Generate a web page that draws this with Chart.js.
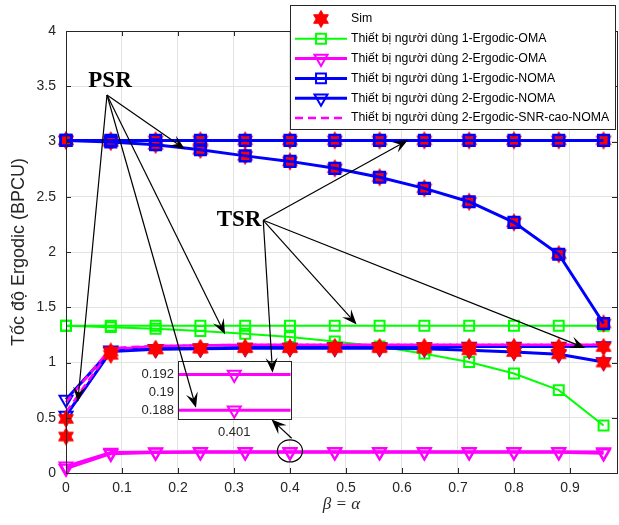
<!DOCTYPE html>
<html>
<head>
<meta charset="utf-8">
<script src="https://cdn.jsdelivr.net/npm/chart.js@4.4.1/dist/chart.umd.min.js"></script>
<style>
  html, body { margin: 0; padding: 0; background: #fff; }
  #wrap { position: relative; width: 619px; height: 525px; }
  #wrap canvas { position: absolute; left: 0; top: 0; }
</style>
</head>
<body>
<div id="wrap">
  <canvas id="main" width="619" height="525"></canvas>
  <canvas id="zoom" width="619" height="525"></canvas>
</div>
<script>
// beta = alpha values on the x axis
const betaAlpha = [0, 0.08, 0.16, 0.24, 0.32, 0.40, 0.48, 0.56, 0.64, 0.72, 0.80, 0.88, 0.96];

// analysis curves
const u1OmaPSR = [1.333, 1.32, 1.305, 1.285, 1.26, 1.23, 1.19, 1.145, 1.08, 1.005, 0.90, 0.75, 0.43];
const u1OmaTSR = [1.333, 1.333, 1.333, 1.333, 1.333, 1.333, 1.333, 1.333, 1.333, 1.333, 1.333, 1.333, 1.333];
const u2OmaPSR = [0.04, 0.175, 0.186, 0.187, 0.188, 0.188, 0.188, 0.188, 0.188, 0.188, 0.188, 0.187, 0.178];
const u2OmaTSR = [0.06, 0.185, 0.191, 0.192, 0.192, 0.192, 0.192, 0.192, 0.192, 0.192, 0.192, 0.192, 0.19];
const u1NomaPSR = [3.01, 2.995, 2.97, 2.925, 2.87, 2.82, 2.757, 2.676, 2.576, 2.455, 2.268, 1.98, 1.353];
const u1NomaTSR = [3.01, 3.01, 3.01, 3.01, 3.01, 3.01, 3.01, 3.01, 3.01, 3.01, 3.01, 3.01, 3.01];
const u2NomaPSR = [0.52, 1.10, 1.12, 1.125, 1.13, 1.13, 1.13, 1.13, 1.125, 1.11, 1.095, 1.075, 1.005];
const u2NomaTSR = [0.665, 1.11, 1.125, 1.13, 1.135, 1.135, 1.14, 1.14, 1.14, 1.145, 1.145, 1.145, 1.15];
const u2HighSnrPSR = [0.55, 1.12, 1.15, 1.155, 1.16, 1.16, 1.16, 1.16, 1.16, 1.16, 1.16, 1.16, 1.16];
const u2HighSnrTSR = [0.64, 1.13, 1.15, 1.155, 1.16, 1.16, 1.16, 1.16, 1.16, 1.16, 1.16, 1.16, 1.16];

// simulation points
const simU1PSR = [3.01, 2.995, 2.97, 2.925, 2.87, 2.82, 2.757, 2.676, 2.576, 2.455, 2.268, 1.98, 1.353];
const simU1TSR = [3.01, 3.01, 3.01, 3.01, 3.01, 3.01, 3.01, 3.01, 3.01, 3.01, 3.01, 3.01, 3.01];
const simU2PSR = [0.49, 1.10, 1.12, 1.125, 1.13, 1.13, 1.13, 1.13, 1.125, 1.11, 1.095, 1.075, 1.0];
const simU2TSR = [0.33, 1.07, 1.12, 1.13, 1.135, 1.135, 1.14, 1.14, 1.14, 1.14, 1.14, 1.14, 1.14];

// ticks
const xTicks = [0, 0.1, 0.2, 0.3, 0.4, 0.5, 0.6, 0.7, 0.8, 0.9];
const yTicks = [0, 0.5, 1, 1.5, 2, 2.5, 3, 3.5, 4];
const insetYTicks = [0.188, 0.19, 0.192];
const insetXLabel = '0.401';

const legendLabels = [
  'Sim',
  'Thiết bị người dùng 1-Ergodic-OMA',
  'Thiết bị người dùng 2-Ergodic-OMA',
  'Thiết bị người dùng 1-Ergodic-NOMA',
  'Thiết bị người dùng 2-Ergodic-NOMA',
  'Thiết bị người dùng 2-Ergodic-SNR-cao-NOMA'
];

// annotation anchors (data coordinates)
const psrText = {x: 0.0786, y: 3.548};
const psrFrom = {x: 0.0732, y: 3.421};
const psrTips = [
  {x: 0.2125, y: 2.93},
  {x: 0.284, y: 1.256},
  {x: 0.021, y: 0.643},
  {inset: true, x: 0.39966, y: 0.1883}
];
const tsrText = {x: 0.309, y: 2.287};
const tsrFrom = {x: 0.3523, y: 2.287};
const tsrTips = [
  {x: 0.6107, y: 3.013},
  {x: 0.519, y: 1.345},
  {x: 0.927, y: 1.132},
  {inset: true, x: 0.40034, y: 0.1922}
];
const zoomCircle = {x: 0.40, y: 0.20};
const zoomArrow = {from: {x: 0.403, y: 0.314}, to: {x: 0.367, y: 0.484}};
const insetBox = {xMin: 0.2, xMax: 0.401, yMin: 0.486, yMax: 1.012};

const BLUE = '#0000ff', GREEN = '#00ff00', MAGENTA = '#ff00ff', RED = '#ff0000';
const TXT = '#262626';

function pts(arr) { return betaAlpha.map((x, i) => ({x: x, y: arr[i]})); }

function makeHexagram(R) {
  const c = document.createElement('canvas');
  const s = Math.ceil(2 * R + 3);
  c.width = s; c.height = s;
  const g = c.getContext('2d');
  const r = R / Math.sqrt(3);
  g.beginPath();
  for (let k = 0; k < 12; k++) {
    const a = -Math.PI / 2 + k * Math.PI / 6;
    const rr = k % 2 ? r : R;
    const px = s / 2 + rr * Math.cos(a), py = s / 2 + rr * Math.sin(a);
    if (k === 0) g.moveTo(px, py); else g.lineTo(px, py);
  }
  g.closePath();
  g.fillStyle = RED; g.fill();
  g.strokeStyle = RED; g.lineWidth = 1; g.stroke();
  return c;
}
const star = makeHexagram(8.5);

function lineSet(arr, color, width, shape, extra) {
  return Object.assign({
    data: pts(arr),
    borderColor: color,
    borderWidth: width,
    pointStyle: shape === 'tri' ? 'triangle' : 'rect',
    pointRotation: shape === 'tri' ? 180 : 0,
    pointRadius: shape === 'tri' ? 7.5 : 7,
    pointBorderColor: color,
    pointBackgroundColor: 'rgba(0,0,0,0)',
    pointBorderWidth: 2,
    tension: 0,
    clip: false
  }, extra || {});
}
function simSet(arr) {
  return { data: pts(arr), showLine: false, pointStyle: star, pointRadius: 8, clip: false };
}
function dashSet(arr) {
  return { data: pts(arr), borderColor: MAGENTA, borderWidth: 2.5, borderDash: [8, 5], pointRadius: 0, tension: 0, clip: false };
}

function drawArrow(ctx, x0, y0, x1, y1) {
  const a = Math.atan2(y1 - y0, x1 - x0), c = Math.cos(a), s = Math.sin(a);
  const L = 15, W = 6;
  ctx.beginPath();
  ctx.moveTo(x0, y0);
  ctx.lineTo(x1 - c * L * 0.6, y1 - s * L * 0.6);
  ctx.stroke();
  ctx.beginPath();
  ctx.moveTo(x1, y1);
  ctx.lineTo(x1 - L * c - W * s, y1 - L * s + W * c);
  ctx.lineTo(x1 - 0.6 * L * c, y1 - 0.6 * L * s);
  ctx.lineTo(x1 - L * c + W * s, y1 - L * s - W * c);
  ctx.closePath();
  ctx.fill();
}

function drawMarker(ctx, shape, x, y, color) {
  ctx.strokeStyle = color; ctx.lineWidth = 2;
  ctx.beginPath();
  if (shape === 'rect') {
    const h = 7 * Math.SQRT1_2;
    ctx.rect(x - h, y - h, 2 * h, 2 * h);
  } else {
    const r = 7.5;
    ctx.moveTo(x, y + r);
    ctx.lineTo(x - r * Math.sin(Math.PI / 3), y - r / 2);
    ctx.lineTo(x + r * Math.sin(Math.PI / 3), y - r / 2);
    ctx.closePath();
  }
  ctx.stroke();
}

const frame = {
  id: 'frame',
  afterDatasetsDraw(chart) {
    const {ctx, chartArea: ca, scales} = chart;
    ctx.save();
    ctx.strokeStyle = TXT; ctx.lineWidth = 1;
    ctx.beginPath();
    xTicks.forEach(v => {
      const px = Math.round(scales.x.getPixelForValue(v)) + 0.5;
      ctx.moveTo(px, ca.bottom); ctx.lineTo(px, ca.bottom - 5);
      ctx.moveTo(px, ca.top); ctx.lineTo(px, ca.top + 5);
    });
    yTicks.forEach(v => {
      const py = Math.round(scales.y.getPixelForValue(v)) + 0.5;
      ctx.moveTo(ca.left, py); ctx.lineTo(ca.left + 5, py);
      ctx.moveTo(ca.right, py); ctx.lineTo(ca.right - 5, py);
    });
    ctx.stroke();
    ctx.strokeRect(Math.round(ca.left) + 0.5, Math.round(ca.top) + 0.5,
      Math.round(ca.right - ca.left), Math.round(ca.bottom - ca.top));
    ctx.restore();
  },
  afterDraw(chart) {
    const {ctx, chartArea: ca} = chart;
    const bw = 325, bh = 124, bx = Math.round(ca.right) - 2 - bw, by = 5;
    ctx.save();
    ctx.fillStyle = '#fff';
    ctx.fillRect(bx, by, bw, bh);
    ctx.strokeStyle = TXT; ctx.lineWidth = 1;
    ctx.strokeRect(bx + 0.5, by + 0.5, bw, bh);
    const styles = [
      {star: true},
      {color: GREEN, w: 2, shape: 'rect'},
      {color: MAGENTA, w: 3, shape: 'tri'},
      {color: BLUE, w: 3, shape: 'rect'},
      {color: BLUE, w: 3, shape: 'tri'},
      {color: MAGENTA, w: 2.5, dash: [8, 5]}
    ];
    const x0 = bx + 5, x1 = bx + 57, xm = (x0 + x1) / 2;
    ctx.font = '12.3px "Liberation Sans", Arial, sans-serif';
    ctx.textBaseline = 'middle';
    styles.forEach((st, i) => {
      const y = by + 14 + i * 19.8;
      if (st.star) {
        ctx.drawImage(star, xm - star.width / 2, y - star.height / 2);
      } else {
        ctx.strokeStyle = st.color; ctx.lineWidth = st.w;
        ctx.setLineDash(st.dash || []);
        ctx.beginPath(); ctx.moveTo(x0, y); ctx.lineTo(x1, y); ctx.stroke();
        ctx.setLineDash([]);
        if (st.shape) drawMarker(ctx, st.shape, xm, y, st.color);
      }
      ctx.fillStyle = '#000';
      ctx.fillText(legendLabels[i], bx + 61, y);
    });
    ctx.restore();
  }
};

const tickCb = v => String(+Number(v).toFixed(4));

const main = new Chart(document.getElementById('main'), {
  type: 'line',
  data: {
    datasets: [
      lineSet(u1NomaPSR, BLUE, 3, 'rect', {pointBorderWidth: 2.5, pointRadius: 7.5}),
      lineSet(u1NomaTSR, BLUE, 3, 'rect', {pointBorderWidth: 2.5, pointRadius: 7.5}),
      simSet(simU1PSR),
      simSet(simU1TSR),
      simSet(simU2PSR),
      simSet(simU2TSR),
      dashSet(u2HighSnrPSR),
      dashSet(u2HighSnrTSR),
      lineSet(u2NomaPSR, BLUE, 3, 'tri'),
      lineSet(u2NomaTSR, BLUE, 3, 'tri'),
      lineSet(u1OmaPSR, GREEN, 2, 'rect'),
      lineSet(u1OmaTSR, GREEN, 2, 'rect'),
      lineSet(u2OmaPSR, MAGENTA, 3, 'tri'),
      lineSet(u2OmaTSR, MAGENTA, 3, 'tri')
    ]
  },
  options: {
    responsive: false,
    animation: false,
    devicePixelRatio: 1,
    events: [],
    layout: {autoPadding: false, padding: {left: 0, top: 31, right: 2, bottom: 0}},
    plugins: {legend: {display: false}, tooltip: {enabled: false}},
    scales: {
      x: {
        type: 'linear', min: 0, max: 0.984,
        afterBuildTicks: s => { s.ticks = xTicks.map(v => ({value: v})); },
        afterFit: s => { s.height = 52; s.paddingLeft = 0; s.paddingRight = 0; },
        ticks: {callback: tickCb, color: TXT, font: {family: '"Liberation Sans", Arial', size: 14}, padding: 7, maxRotation: 0},
        grid: {color: '#e3e3e3', drawTicks: false},
        border: {display: false},
        title: {display: true, text: 'β = α', color: TXT,
          font: {family: '"Liberation Serif", "Times New Roman", serif', size: 17, style: 'italic'},
          padding: {top: 0, bottom: 10}}
      },
      y: {
        type: 'linear', min: 0, max: 4,
        afterBuildTicks: s => { s.ticks = yTicks.map(v => ({value: v})); },
        afterFit: s => { s.width = 66; s.paddingTop = 0; s.paddingBottom = 0; },
        ticks: {callback: tickCb, color: TXT, font: {family: '"Liberation Sans", Arial', size: 14}, padding: 10},
        grid: {color: '#e3e3e3', drawTicks: false},
        border: {display: false},
        title: {display: true, text: 'Tốc độ Ergodic (BPCU)', color: TXT,
          font: {family: '"Liberation Sans", Arial', size: 18},
          padding: {top: 8, bottom: 0}}
      }
    }
  },
  plugins: [frame]
});

// inset (zoom) axes placed over the main plot
const mx = main.scales.x, my = main.scales.y;
const iL = mx.getPixelForValue(insetBox.xMin), iR = mx.getPixelForValue(insetBox.xMax);
const iT = my.getPixelForValue(insetBox.yMax), iB = my.getPixelForValue(insetBox.yMin);

const insetDecor = {
  id: 'insetDecor',
  beforeDatasetsDraw(chart) {
    const {ctx, chartArea: ca} = chart;
    ctx.save();
    ctx.fillStyle = '#fff';
    ctx.fillRect(ca.left, ca.top, ca.right - ca.left, ca.bottom - ca.top);
    ctx.restore();
  },
  afterDatasetsDraw(chart) {
    const {ctx, chartArea: ca} = chart;
    ctx.save();
    ctx.strokeStyle = TXT; ctx.lineWidth = 1;
    ctx.strokeRect(Math.round(ca.left) + 0.5, Math.round(ca.top) + 0.5,
      Math.round(ca.right - ca.left), Math.round(ca.bottom - ca.top));
    ctx.restore();
  },
  afterDraw(chart) {
    const {ctx} = chart;
    const ix = chart.scales.x, iy = chart.scales.y;
    const P = p => p.inset
      ? [ix.getPixelForValue(p.x), iy.getPixelForValue(p.y)]
      : [mx.getPixelForValue(p.x), my.getPixelForValue(p.y)];
    ctx.save();
    ctx.strokeStyle = '#000'; ctx.fillStyle = '#000'; ctx.lineWidth = 1.2;
    const pf = P(psrFrom), tf = P(tsrFrom);
    psrTips.forEach(t => { const q = P(t); drawArrow(ctx, pf[0], pf[1], q[0], q[1]); });
    tsrTips.forEach(t => { const q = P(t); drawArrow(ctx, tf[0], tf[1], q[0], q[1]); });
    const za = P(zoomArrow.from), zb = P(zoomArrow.to);
    drawArrow(ctx, za[0], za[1], zb[0], zb[1]);
    const zc = P(zoomCircle);
    ctx.beginPath();
    ctx.ellipse(zc[0], zc[1], 12.5, 11, 0, 0, Math.PI * 2);
    ctx.stroke();
    ctx.font = 'bold 23px "Liberation Serif", "Times New Roman", serif';
    ctx.textAlign = 'center'; ctx.textBaseline = 'middle';
    const pt = P(psrText), tt = P(tsrText);
    ctx.fillText('PSR', pt[0], pt[1]);
    ctx.fillText('TSR', tt[0], tt[1]);
    ctx.restore();
  }
};

new Chart(document.getElementById('zoom'), {
  type: 'line',
  data: {
    datasets: [
      lineSet(u2OmaTSR, MAGENTA, 3, 'tri', {clip: undefined}),
      lineSet(u2OmaPSR, MAGENTA, 3, 'tri', {clip: undefined})
    ]
  },
  options: {
    responsive: false,
    animation: false,
    devicePixelRatio: 1,
    events: [],
    layout: {autoPadding: false, padding: {left: iL - 50, top: iT, right: 619 - iR, bottom: 525 - iB - 30}},
    plugins: {legend: {display: false}, tooltip: {enabled: false}},
    scales: {
      x: {
        type: 'linear', min: 0.3995, max: 0.4005,
        afterFit: s => { s.height = 30; s.paddingLeft = 0; s.paddingRight = 0; },
        ticks: {display: false},
        grid: {display: false},
        border: {display: false},
        title: {display: true, text: insetXLabel, color: TXT,
          font: {family: '"Liberation Sans", Arial', size: 13}, padding: {top: 0, bottom: 9}}
      },
      y: {
        type: 'linear', min: 0.187, max: 0.1935,
        afterBuildTicks: s => { s.ticks = insetYTicks.map(v => ({value: v})); },
        afterFit: s => { s.width = 50; },
        ticks: {callback: tickCb, color: TXT, font: {family: '"Liberation Sans", Arial', size: 13}, padding: 4},
        grid: {display: false, drawTicks: false},
        border: {display: false}
      }
    }
  },
  plugins: [insetDecor]
});
</script>
</body>
</html>
